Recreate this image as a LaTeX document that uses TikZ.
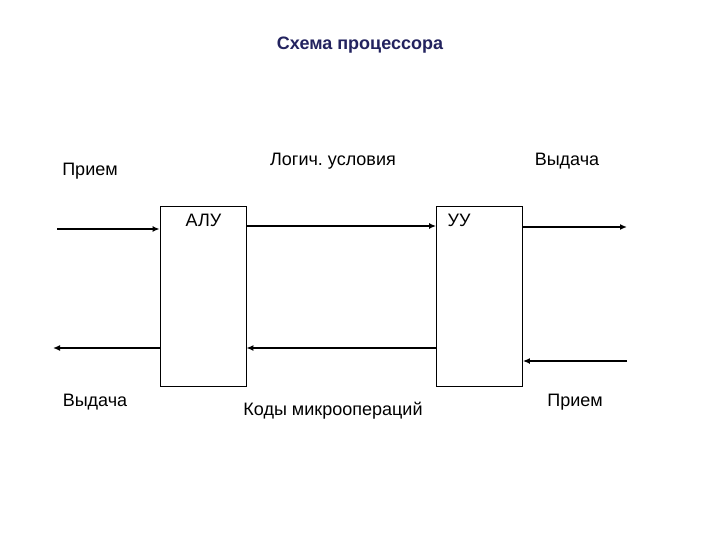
\documentclass[tikz,border=0pt]{standalone}
\usepackage{fontspec}
\setmainfont{Liberation Sans}
\usetikzlibrary{arrows.meta}
\definecolor{titlecol}{RGB}{35,35,95}
\frenchspacing
\begin{document}
\begin{tikzpicture}[x=1pt,y=-1pt,
  blockbox/.style={draw=black,line width=0.8pt,minimum width=86pt,minimum height=180pt,inner sep=0pt},
  lbl/.style={font=\fontsize{18}{21}\selectfont,inner sep=0pt,text=black},
  arr/.style={line width=1.6pt,-{Latex[length=7pt,width=6pt]}}]
\fill[white] (0,0) rectangle (720,540);
\useasboundingbox (0,0) rectangle (720,540);
\node[font=\bfseries\fontsize{18}{21}\selectfont,text=titlecol,inner sep=0pt] (title) at (360,45) {Схема процессора};
\node[blockbox] (alu) at (203,296) {};
\node[blockbox] (uu) at (479.5,296) {};
\node[lbl] (alulbl) at (203.5,220) {АЛУ};
\node[lbl] (uulbl) at (459,220) {УУ};
\node[lbl] (inL) at (90,171) {Прием};
\node[lbl] (logic) at (333,161) {Логич.\ условия};
\node[lbl] (outR) at (567,161) {Выдача};
\node[lbl] (outL) at (95,402) {Выдача};
\node[lbl] (codes) at (333,411) {Коды микроопераций};
\node[lbl] (inR) at (575,402) {Прием};
\coordinate (a1) at (57,229);
\coordinate (a2) at (53,348);
\coordinate (a3) at (627,227);
\coordinate (a4) at (627,361);
\coordinate (m1) at (247,226);
\coordinate (m2) at (247,348);
\draw[arr] (a1) -- (alu.west |- a1);
\draw[arr] (alu.west |- a2) -- (a2);
\draw[arr] (alu.east |- m1) -- (uu.west |- m1);
\draw[arr] (uu.west |- m2) -- (alu.east |- m2);
\draw[arr] (uu.east |- a3) -- (a3);
\draw[arr] (a4) -- (uu.east |- a4);
\end{tikzpicture}
\end{document}
